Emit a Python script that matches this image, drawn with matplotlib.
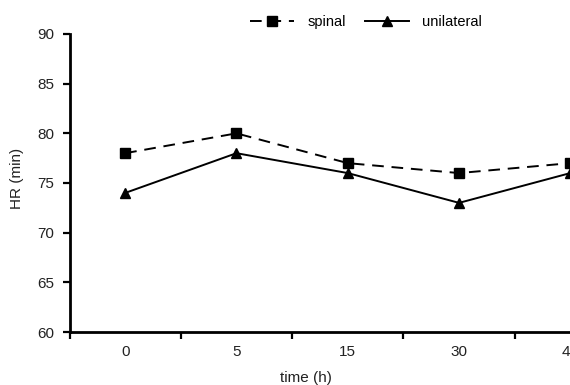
import matplotlib
matplotlib.use("Agg")
import matplotlib.pyplot as plt
import numpy as np
from matplotlib.ticker import FixedLocator, NullFormatter

plt.rcParams['font.family'] = ['Liberation Sans', 'DejaVu Sans']

categories = ["0", "5", "15", "30", "45"]
spinal = [78, 80, 77, 76, 77]
unilateral = [74, 78, 76, 73, 76]
y_ticks = [60, 65, 70, 75, 80, 85, 90]

fig = plt.figure(figsize=(5.7, 3.85), dpi=100)
ax = fig.add_axes([69.5/570, 1-332/385, 556.5/570, 298/385])

x = np.arange(len(categories))
ax.plot(x, spinal, color='black', lw=1.4, ls=(0, (6, 4)), marker='s', ms=6.5,
        label='spinal')
ax.plot(x, unilateral, color='black', lw=1.4, ls='-', marker='^', ms=7,
        label='unilateral')

ax.set_xlim(-0.5, len(categories) - 0.5)
ax.set_ylim(60, 90)
ax.set_yticks(y_ticks)
ax.xaxis.set_major_locator(FixedLocator(np.arange(-0.5, len(categories), 1.0)))
ax.xaxis.set_major_formatter(NullFormatter())
ax.set_xticks(x, minor=True)
ax.set_xticklabels(categories, minor=True)
ax.tick_params(axis='x', which='minor', length=0, pad=9, labelsize=11, colors='#222222')
ax.tick_params(axis='x', which='major', length=5, width=1.6, direction='out', color='black')
ax.tick_params(axis='y', length=5, width=1.6, direction='out', labelsize=11,
               labelcolor='#222222', color='black', pad=6)

for s in ['top', 'right']:
    ax.spines[s].set_visible(False)
for s in ['left', 'bottom']:
    ax.spines[s].set_linewidth(2)

ax.set_xlabel('time (h)', fontsize=11, color='#222222')
ax.xaxis.set_label_coords((306-69.5)/556.5, -39/298)
ax.set_ylabel('HR (min)', fontsize=11, color='#222222')
ax.yaxis.set_label_coords(-52/556.5, (332-178)/298)
ax.yaxis.label.set_verticalalignment('center')

fig.legend(loc='center', bbox_to_anchor=(366/570, 1-22/385), ncol=2,
           frameon=False, fontsize=10.5, handlelength=3.0, handletextpad=0.9,
           columnspacing=1.3)

fig.savefig('out.png', dpi=100)
